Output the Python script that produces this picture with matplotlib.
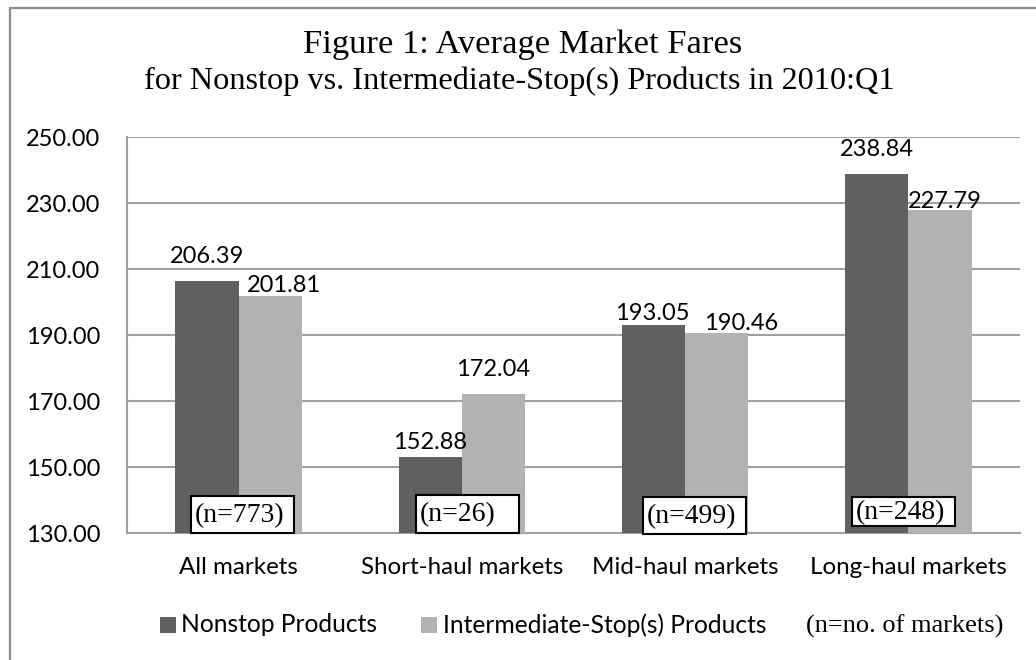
import matplotlib
matplotlib.use("Agg")
import matplotlib.pyplot as plt
from matplotlib.patches import Rectangle
import numpy as np

# ---- data ----
categories = ["All markets", "Short-haul markets", "Mid-haul markets", "Long-haul markets"]
nonstop = [206.39, 152.88, 193.05, 238.84]
intermediate = [201.81, 172.04, 190.46, 227.79]
n_markets = ["(n=773)", "(n=26)", "(n=499)", "(n=248)"]
series_names = ["Nonstop Products", "Intermediate-Stop(s) Products"]
yticks = [130, 150, 170, 190, 210, 230, 250]
title_lines = ["Figure 1: Average Market Fares",
               "for Nonstop vs. Intermediate-Stop(s) Products in 2010:Q1"]
note = "(n=no. of markets)"

# ---- style ----
W, H = 1036, 660
DARK = "#606060"
LIGHT = "#b2b2b2"
GRID = "#a0a0a0"
SANS = ["Lato", "DejaVu Sans"]
SERIF = ["Liberation Serif", "DejaVu Serif"]
FS = 17

fig = plt.figure(figsize=(W / 100, H / 100), dpi=100)
fig.patch.set_facecolor("white")

def fx(px):
    return px / W

def fy(py):
    return 1 - py / H

# outer border
fig.add_artist(Rectangle((fx(10), fy(700)), fx(1100), fy(8) - fy(700), transform=fig.transFigure,
                         fill=False, edgecolor="#8c8c8c", linewidth=1.6))

ax_l, ax_r, ax_t, ax_b = 127, 1020, 137, 533
ax = fig.add_axes([fx(ax_l), fy(ax_b), fx(ax_r - ax_l), (ax_b - ax_t) / H])
ax.set_xlim(-0.5, 3.5)
ax.set_ylim(130, 250)

x = np.arange(len(categories))
bw = 0.283
ax.bar(x - bw / 2, nonstop, width=bw, color=DARK, zorder=3, label=series_names[0])
ax.bar(x + bw / 2, intermediate, width=bw, color=LIGHT, zorder=3, label=series_names[1])

ax.set_yticks(yticks)
ax.set_yticklabels([f"{v:.2f}" for v in yticks], fontfamily=SANS, fontsize=FS)
ax.tick_params(axis="y", length=0, pad=19)
ax.set_xticks([])
ax.yaxis.grid(True, color=GRID, linewidth=1.5, zorder=0)
for s in ["top", "right"]:
    ax.spines[s].set_visible(False)
for s in ["left", "bottom"]:
    ax.spines[s].set_color(GRID)
    ax.spines[s].set_linewidth(1.5)

# value labels (pixel offsets from bar top)
dark_dx = [0, 0, -1, 0]
dark_gap = [18, 8, 5, 18]
light_dx = [14, 0, 24, 5]
light_gap = [4, 18, 3, 2]
for i in range(len(categories)):
    ax.annotate(f"{nonstop[i]:.2f}", xy=(x[i] - bw / 2, nonstop[i]), xytext=(dark_dx[i], dark_gap[i]),
                textcoords="offset pixels", ha="center", va="baseline",
                fontfamily=SANS, fontsize=FS, zorder=5)
    ax.annotate(f"{intermediate[i]:.2f}", xy=(x[i] + bw / 2, intermediate[i]), xytext=(light_dx[i], light_gap[i]),
                textcoords="offset pixels", ha="center", va="baseline",
                fontfamily=SANS, fontsize=FS, zorder=5)

# category labels
for i, c in enumerate(categories):
    ax.annotate(c, xy=(x[i], 0), xycoords=("data", "axes fraction"), xytext=(0, -35),
                textcoords="offset pixels", ha="center", va="center",
                fontfamily=SANS, fontsize=17.4, annotation_clip=False)

# n boxes (pixel geometry)
box_left = [191, 416, 643, 852]
box_top = [496, 495, 497, 497]
box_bot = [533, 533, 534, 526]
box_text_y = [516, 515, 517, 513]
box_w = 103
for i, t in enumerate(n_markets):
    l = box_left[i]
    fig.add_artist(Rectangle((fx(l), fy(box_bot[i])), fx(box_w), fy(box_top[i]) - fy(box_bot[i]),
                             transform=fig.transFigure, facecolor="white", edgecolor="black",
                             linewidth=1.5, zorder=10))
    fig.text(fx(l + 4), fy(box_text_y[i]), t, ha="left", va="center",
             fontfamily=SERIF, fontsize=20, zorder=11)

# title
fig.text(fx(523), fy(45), title_lines[0], ha="center", va="center", fontfamily=SERIF, fontsize=24.8)
fig.text(fx(519), fy(81), title_lines[1], ha="center", va="center", fontfamily=SERIF, fontsize=23.2)

# legend
leg_y = 625
for (sx, tx, col, name) in [(160, 181, DARK, series_names[0]), (421, 443, LIGHT, series_names[1])]:
    fig.add_artist(Rectangle((fx(sx), fy(leg_y + 8)), fx(16), fy(leg_y - 8) - fy(leg_y + 8),
                             transform=fig.transFigure, facecolor=col, edgecolor="none"))
    fig.text(fx(tx), fy(leg_y), name, ha="left", va="center", fontfamily=SANS, fontsize=17.7)
fig.text(fx(806), fy(leg_y + 1), note, ha="left", va="center", fontfamily=SERIF, fontsize=19)

fig.savefig("out.png", dpi=100, facecolor="white")
